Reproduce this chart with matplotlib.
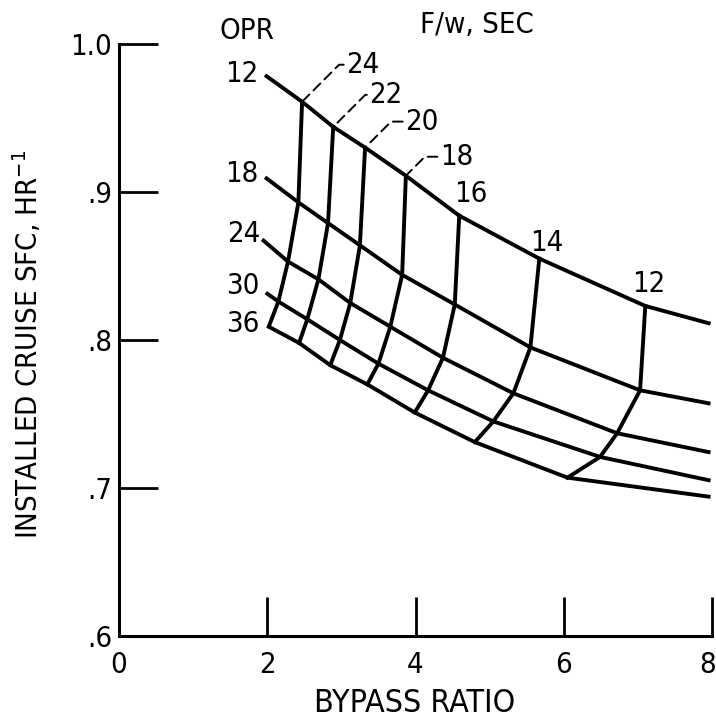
import numpy as np
import matplotlib.pyplot as plt
import matplotlib.transforms as mtransforms

plt.rcParams['font.family'] = ['DejaVu Sans']
plt.rcParams['font.stretch'] = 'condensed'

# carpet plot: rows = OPR, columns = F/w (sec)
opr = [12, 18, 24, 30, 36]
fw = [24, 22, 20, 18, 16, 14, 12]

# bypass ratio at each grid node (rows: OPR, cols: F/w)
bpr = np.array([
    [2.47, 2.89, 3.32, 3.87, 4.59, 5.67, 7.10],
    [2.42, 2.82, 3.25, 3.82, 4.53, 5.55, 7.03],
    [2.28, 2.69, 3.12, 3.66, 4.37, 5.32, 6.72],
    [2.15, 2.54, 2.98, 3.50, 4.17, 5.05, 6.49],
    [2.02, 2.43, 2.85, 3.35, 3.99, 4.80, 6.05],
])
# installed cruise SFC at each grid node
sfc = np.array([
    [0.961, 0.944, 0.930, 0.911, 0.884, 0.855, 0.823],
    [0.893, 0.879, 0.864, 0.844, 0.824, 0.795, 0.766],
    [0.853, 0.841, 0.825, 0.809, 0.788, 0.764, 0.737],
    [0.826, 0.814, 0.800, 0.784, 0.766, 0.745, 0.721],
    [0.809, 0.798, 0.783, 0.770, 0.751, 0.731, 0.707],
])
# OPR line starts (left of the grid) and ends (at bypass ratio 8)
opr_start_bpr = [1.97, 1.97, 1.93, 1.98, 2.02]
opr_start_sfc = [0.979, 0.910, 0.868, 0.832, 0.809]
opr_end_bpr = [7.98, 7.98, 7.98, 7.98, 7.98]
opr_end_sfc = [0.811, 0.757, 0.724, 0.705, 0.694]

# label placement (pixel offsets from the anchoring node)
opr_lbl_off = [(-7, 1), (-7, 3), (-2, 5), (-6, 7), (-9, 3)]
fw_lbl_off = [(61, 37), (53, 32), (57, 26), (51, 19), (12, 22), (7, 16), (3, 22)]
fw_leader = [True, True, True, True, False, False, False]

fig = plt.figure(figsize=(7.16, 7.22), dpi=100)
ax = fig.add_axes([119/716, 86/722, 593/716, 592/722])

lw = 2.8
for i in range(len(opr)):
    xs = [opr_start_bpr[i]] + list(bpr[i]) + [opr_end_bpr[i]]
    ys = [opr_start_sfc[i]] + list(sfc[i]) + [opr_end_sfc[i]]
    ax.plot(xs, ys, color='black', lw=lw, solid_capstyle='butt', clip_on=False)
    ax.annotate(str(opr[i]), xy=(opr_start_bpr[i], opr_start_sfc[i]),
                xytext=opr_lbl_off[i], textcoords='offset pixels',
                ha='right', va='center', fontsize=21, annotation_clip=False)

for j in range(len(fw)):
    ax.plot(bpr[:, j], sfc[:, j], color='black', lw=lw, clip_on=False)
    node = (bpr[0, j], sfc[0, j])
    if fw_leader[j]:
        ax.annotate(str(fw[j]), xy=node, xytext=fw_lbl_off[j],
                    textcoords='offset pixels', ha='center', va='center',
                    fontsize=21, annotation_clip=False,
                    arrowprops=dict(arrowstyle='-', color='black', lw=1.4,
                                    linestyle=(0, (5, 3)), relpos=(0, 0.5),
                                    shrinkA=0, shrinkB=2,
                                    connectionstyle='angle,angleA=0,angleB=45,rad=0'))
    else:
        ax.annotate(str(fw[j]), xy=node, xytext=fw_lbl_off[j],
                    textcoords='offset pixels', ha='center', va='center',
                    fontsize=21, annotation_clip=False)

fig.text(247/716, 1 - 31/722, 'OPR', ha='center', va='center', fontsize=21)
fig.text(477/716, 1 - 25/722, 'F/w, SEC', ha='center', va='center', fontsize=21)

ax.set_xlim(0, 8)
ax.set_ylim(0.6, 1.0)
ax.set_xticks([0, 2, 4, 6, 8])
ax.set_xticklabels(['0', '2', '4', '6', '8'])
ax.set_yticks([0.6, 0.7, 0.8, 0.9, 1.0])
ax.set_yticklabels(['.6', '.7', '.8', '.9', '1.0'])
ax.tick_params(direction='in', length=28, width=2, labelsize=21)
ax.tick_params(axis='x', pad=11)
ax.tick_params(axis='y', pad=5)
for s in ['top', 'right']:
    ax.spines[s].set_visible(False)
for s in ['left', 'bottom']:
    ax.spines[s].set_linewidth(2.2)

# keep the last x tick label inside the picture
last = ax.get_xticklabels()[-1]
last.set_transform(last.get_transform() +
                   mtransforms.ScaledTranslation(-4/100, 0, fig.dpi_scale_trans))

fig.text(28/716, 1 - 344/722, 'INSTALLED CRUISE SFC, HR$^{-1}$', rotation=90,
         ha='center', va='center', fontsize=21)
fig.text(415/716, 1 - 703/722, 'BYPASS RATIO', ha='center', va='center',
         fontsize=23)

fig.savefig('out.png', dpi=100)
